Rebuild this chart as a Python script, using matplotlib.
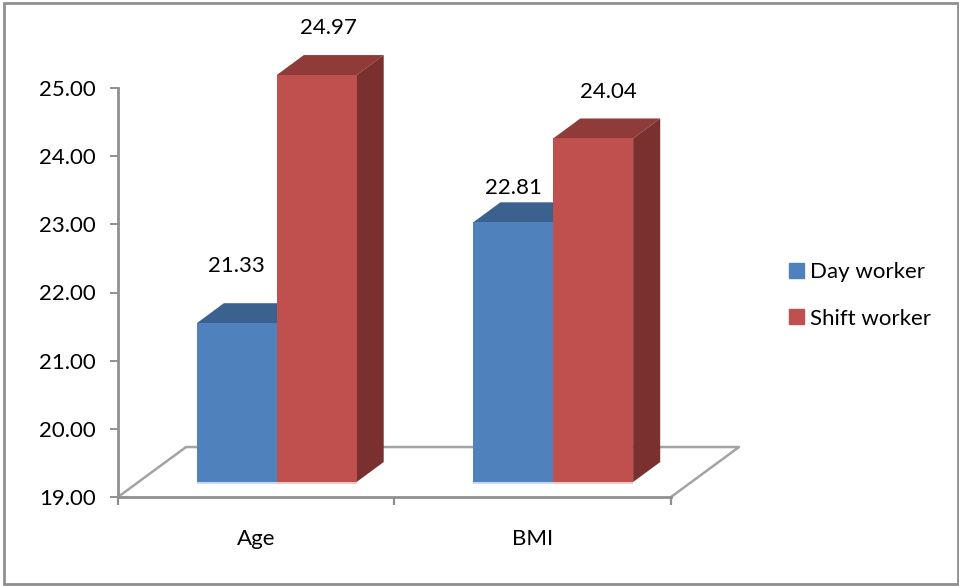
#!/usr/bin/env python3
import matplotlib.pyplot as plt
from matplotlib.patches import Patch, Rectangle

categories = ["Age", "BMI"]
day_worker = [21.33, 22.81]
shift_worker = [24.97, 24.04]
y_ticks = [19, 20, 21, 22, 23, 24, 25]

W, H = 959, 586
GREY = "#8f8f8f"
BLUE = "#4f81bd"
BLUE_TOP = "#3b618f"
BLUE_SIDE = "#2f4d72"
RED = "#c0504d"
RED_TOP = "#8f3b39"
RED_SIDE = "#7a302e"

# 3D look: floor depth, bar depth and where the bars stand on the floor
FLOOR_DX, FLOOR_DY = 0.246, 0.733
BAR_DX, BAR_DY = 0.098, 0.293
BASE = 19.22
BAR_W = 0.289
CENTER_SHIFT = 0.074

plt.rcParams["font.family"] = ["Lato", "DejaVu Sans"]
plt.rcParams["font.size"] = 16

fig = plt.figure(figsize=(W / 100, H / 100), dpi=100)
fig.add_artist(Rectangle((3.5 / W, 2.5 / H), (W - 5) / W, (H - 5.5) / H, transform=fig.transFigure,
                         fill=False, edgecolor=GREY, linewidth=2))

ax = fig.add_axes([118 / W, (H - 497) / H, 553 / W, 409 / H])
ax.set_xlim(0, 2)
ax.set_ylim(19, 25)
ax.patch.set_visible(False)


def draw_bar(x, value, front, top, side, zo):
    right = x + BAR_W
    ax.bar(x, value - 19, BAR_W, bottom=BASE, align="edge", color=front, clip_on=False,
           zorder=zo + 0.2)
    yt = value + BASE - 19
    ax.fill([x, x + BAR_DX, right + BAR_DX, right], [yt, yt + BAR_DY, yt + BAR_DY, yt],
            color=top, lw=0, clip_on=False, zorder=zo)
    ax.fill([right, right + BAR_DX, right + BAR_DX, right],
            [BASE, BASE + BAR_DY, yt + BAR_DY, yt], color=side, lw=0, clip_on=False, zorder=zo)
    # thin pale edge along the foot of the bar
    ax.plot([x, right], [BASE - 0.012, BASE - 0.012], color=front, alpha=0.3, lw=1.5,
            solid_capstyle="butt", clip_on=False, zorder=zo)


# floor
ax.plot([0, FLOOR_DX, 2 + FLOOR_DX, 2], [19, 19 + FLOOR_DY, 19 + FLOOR_DY, 19],
        color="#a3a3a3", lw=1.8, clip_on=False, zorder=1)

day_offsets = [(0, 57), (0, 34)]
shift_offsets = [(11.5, 47), (15, 46)]

for i, name in enumerate(categories):
    left = i + 0.5 + CENTER_SHIFT - BAR_W
    draw_bar(left, day_worker[i], BLUE, BLUE_TOP, BLUE_SIDE, 2)
    draw_bar(left + BAR_W, shift_worker[i], RED, RED_TOP, RED_SIDE, 3)
    for x, v, off in ((left, day_worker[i], day_offsets[i]),
                      (left + BAR_W, shift_worker[i], shift_offsets[i])):
        ax.annotate(f"{v:.2f}", (x + BAR_W / 2, v + BASE - 19),
                    xytext=(off[0] * 0.72, off[1] * 0.72), textcoords="offset points",
                    ha="center", va="center", color="black", annotation_clip=False, zorder=6)

ax.set_yticks(y_ticks)
ax.set_yticklabels([f"{t:.2f}" for t in y_ticks])
ax.set_xticks([0, 1, 2])
ax.set_xticklabels([])
ax.set_xticks([0.5, 1.5], labels=categories, minor=True)
ax.tick_params(axis="y", length=6, width=1.4, color=GREY, pad=10)
ax.tick_params(axis="x", which="major", length=6, width=1.6, color=GREY)
ax.tick_params(axis="x", which="minor", length=0, pad=23)
for s in ("top", "right"):
    ax.spines[s].set_visible(False)
for s in ("left", "bottom"):
    ax.spines[s].set_color(GREY)
    ax.spines[s].set_linewidth(2)

fig.legend(
    handles=[Patch(color=BLUE, label="Day worker"), Patch(color=RED, label="Shift worker")],
    loc="upper left",
    bbox_to_anchor=(789 / W, (H - 262) / H),
    frameon=False,
    borderpad=0,
    borderaxespad=0,
    handlelength=0.66,
    handleheight=0.66,
    handletextpad=0.3,
    labelspacing=1.2,
)

fig.savefig("out.png", dpi=100)
